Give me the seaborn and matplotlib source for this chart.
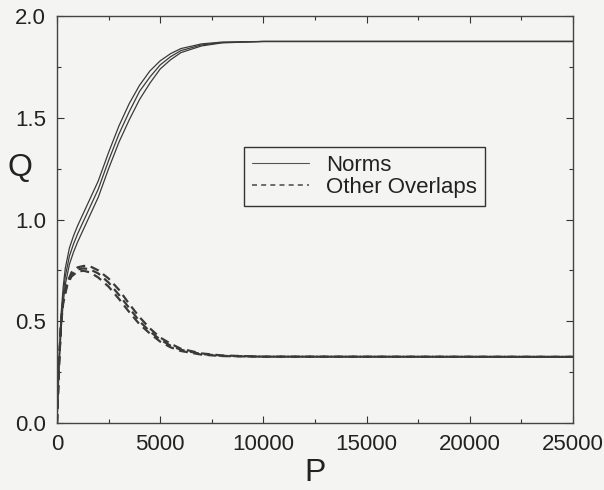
import numpy as np
import pandas as pd
import matplotlib
matplotlib.use("Agg")
import matplotlib.pyplot as plt
import seaborn as sns
from matplotlib.lines import Line2D
from matplotlib.ticker import MultipleLocator

sns.set_theme(style="ticks")
plt.rcParams['font.family'] = ['Liberation Sans', 'DejaVu Sans']

# ---- data ----
P = [0, 100, 200, 300, 400, 600, 800, 1000, 1500, 2000, 2500, 3000, 3500,
     4000, 4500, 5000, 5500, 6000, 7000, 8000, 10000, 25000]

norm_a = [0, 0.33, 0.54, 0.67, 0.76, 0.86, 0.92, 0.97, 1.08, 1.19, 1.33, 1.46,
          1.57, 1.66, 1.73, 1.78, 1.815, 1.84, 1.863, 1.872, 1.875, 1.875]
norm_b = [0, 0.30, 0.50, 0.63, 0.72, 0.82, 0.88, 0.93, 1.04, 1.15, 1.29, 1.42,
          1.53, 1.63, 1.70, 1.76, 1.80, 1.83, 1.858, 1.870, 1.875, 1.875]
norm_c = [0, 0.27, 0.46, 0.59, 0.68, 0.78, 0.84, 0.89, 1.00, 1.11, 1.25, 1.38,
          1.49, 1.59, 1.67, 1.74, 1.785, 1.82, 1.853, 1.868, 1.875, 1.875]

P_ov = [0, 100, 200, 300, 500, 700, 1000, 1300, 1600, 2000, 2500, 3000, 3500,
        4000, 4500, 5000, 5500, 6000, 7000, 8000, 10000, 25000]
over_a = [0, 0.30, 0.50, 0.60, 0.69, 0.74, 0.765, 0.772, 0.77, 0.75, 0.71, 0.655,
          0.585, 0.52, 0.465, 0.42, 0.39, 0.365, 0.342, 0.332, 0.326, 0.325]
over_b = [0, 0.30, 0.50, 0.60, 0.69, 0.73, 0.755, 0.76, 0.755, 0.735, 0.69, 0.63,
          0.565, 0.50, 0.45, 0.41, 0.38, 0.36, 0.339, 0.330, 0.326, 0.325]
over_c = [0, 0.29, 0.49, 0.59, 0.68, 0.72, 0.745, 0.748, 0.74, 0.715, 0.67, 0.61,
          0.545, 0.485, 0.44, 0.40, 0.372, 0.354, 0.336, 0.329, 0.326, 0.325]

xticks = [0, 5000, 10000, 15000, 20000, 25000]
yticks = [0.0, 0.5, 1.0, 1.5, 2.0]

frames = []
for name, vals in [("n1", norm_a), ("n2", norm_b), ("n3", norm_c)]:
    frames.append(pd.DataFrame({"P": P, "Q": vals, "curve": name, "kind": "Norms"}))
for name, vals in [("o1", over_a), ("o2", over_b), ("o3", over_c)]:
    frames.append(pd.DataFrame({"P": P_ov, "Q": vals, "curve": name, "kind": "Other Overlaps"}))
df = pd.concat(frames, ignore_index=True)

bg = "#f4f4f2"
fig = plt.figure(figsize=(6.04, 4.90), dpi=100, facecolor=bg)
ax = fig.add_axes([0.0944, 0.1367, 0.8543, 0.8306])
ax.set_facecolor(bg)

for name, sub in df.groupby("curve"):
    dashed = sub["kind"].iloc[0] != "Norms"
    sns.lineplot(data=sub, x="P", y="Q", ax=ax, color="#3a3a3a",
                 linewidth=1.6 if dashed else 0.9,
                 linestyle=(0, (4, 2.5)) if dashed else "-",
                 estimator=None, sort=False, legend=False)

ax.set_xlim(0, 25000)
ax.set_ylim(0, 2.0)
ax.set_xticks(xticks)
ax.set_yticks(yticks)
ax.set_xticklabels([str(v) for v in xticks])
ax.set_yticklabels([f"{v:.1f}" for v in yticks])
ax.xaxis.set_minor_locator(MultipleLocator(2500))
ax.yaxis.set_minor_locator(MultipleLocator(0.25))
ax.tick_params(which="both", direction="in", top=True, right=True,
               colors="#333333", labelcolor="#222222", width=0.8)
ax.tick_params(which="major", length=5, labelsize=16, pad=8)
ax.tick_params(which="minor", length=3)
for s in ax.spines.values():
    s.set_color("#444444")
    s.set_linewidth(1.0)

ax.set_xlabel("P", fontsize=23, color="#222222", labelpad=2)
ax.set_ylabel("Q", fontsize=23, color="#222222", rotation=0, va="center", ha="center")
ax.yaxis.set_label_coords(-0.072, 0.627)

handles = [Line2D([], [], color="#555555", linewidth=0.8, linestyle="-"),
           Line2D([], [], color="#555555", linewidth=1.2, linestyle=(0, (3, 2.5)))]
leg = ax.legend(handles, ["Norms", "Other Overlaps"], loc="upper left",
                bbox_to_anchor=(0.362, 0.678), borderaxespad=0, fontsize=16,
                frameon=True, fancybox=False, shadow=False, handlelength=2.6,
                handletextpad=0.75, borderpad=0.35, labelspacing=0.05)
leg.get_frame().set_edgecolor("#333333")
leg.get_frame().set_facecolor(bg)
leg.get_frame().set_linewidth(1.0)
leg.get_frame().set_alpha(1)
for t in leg.get_texts():
    t.set_color("#222222")

fig.savefig("out.png", dpi=100, facecolor=bg)
